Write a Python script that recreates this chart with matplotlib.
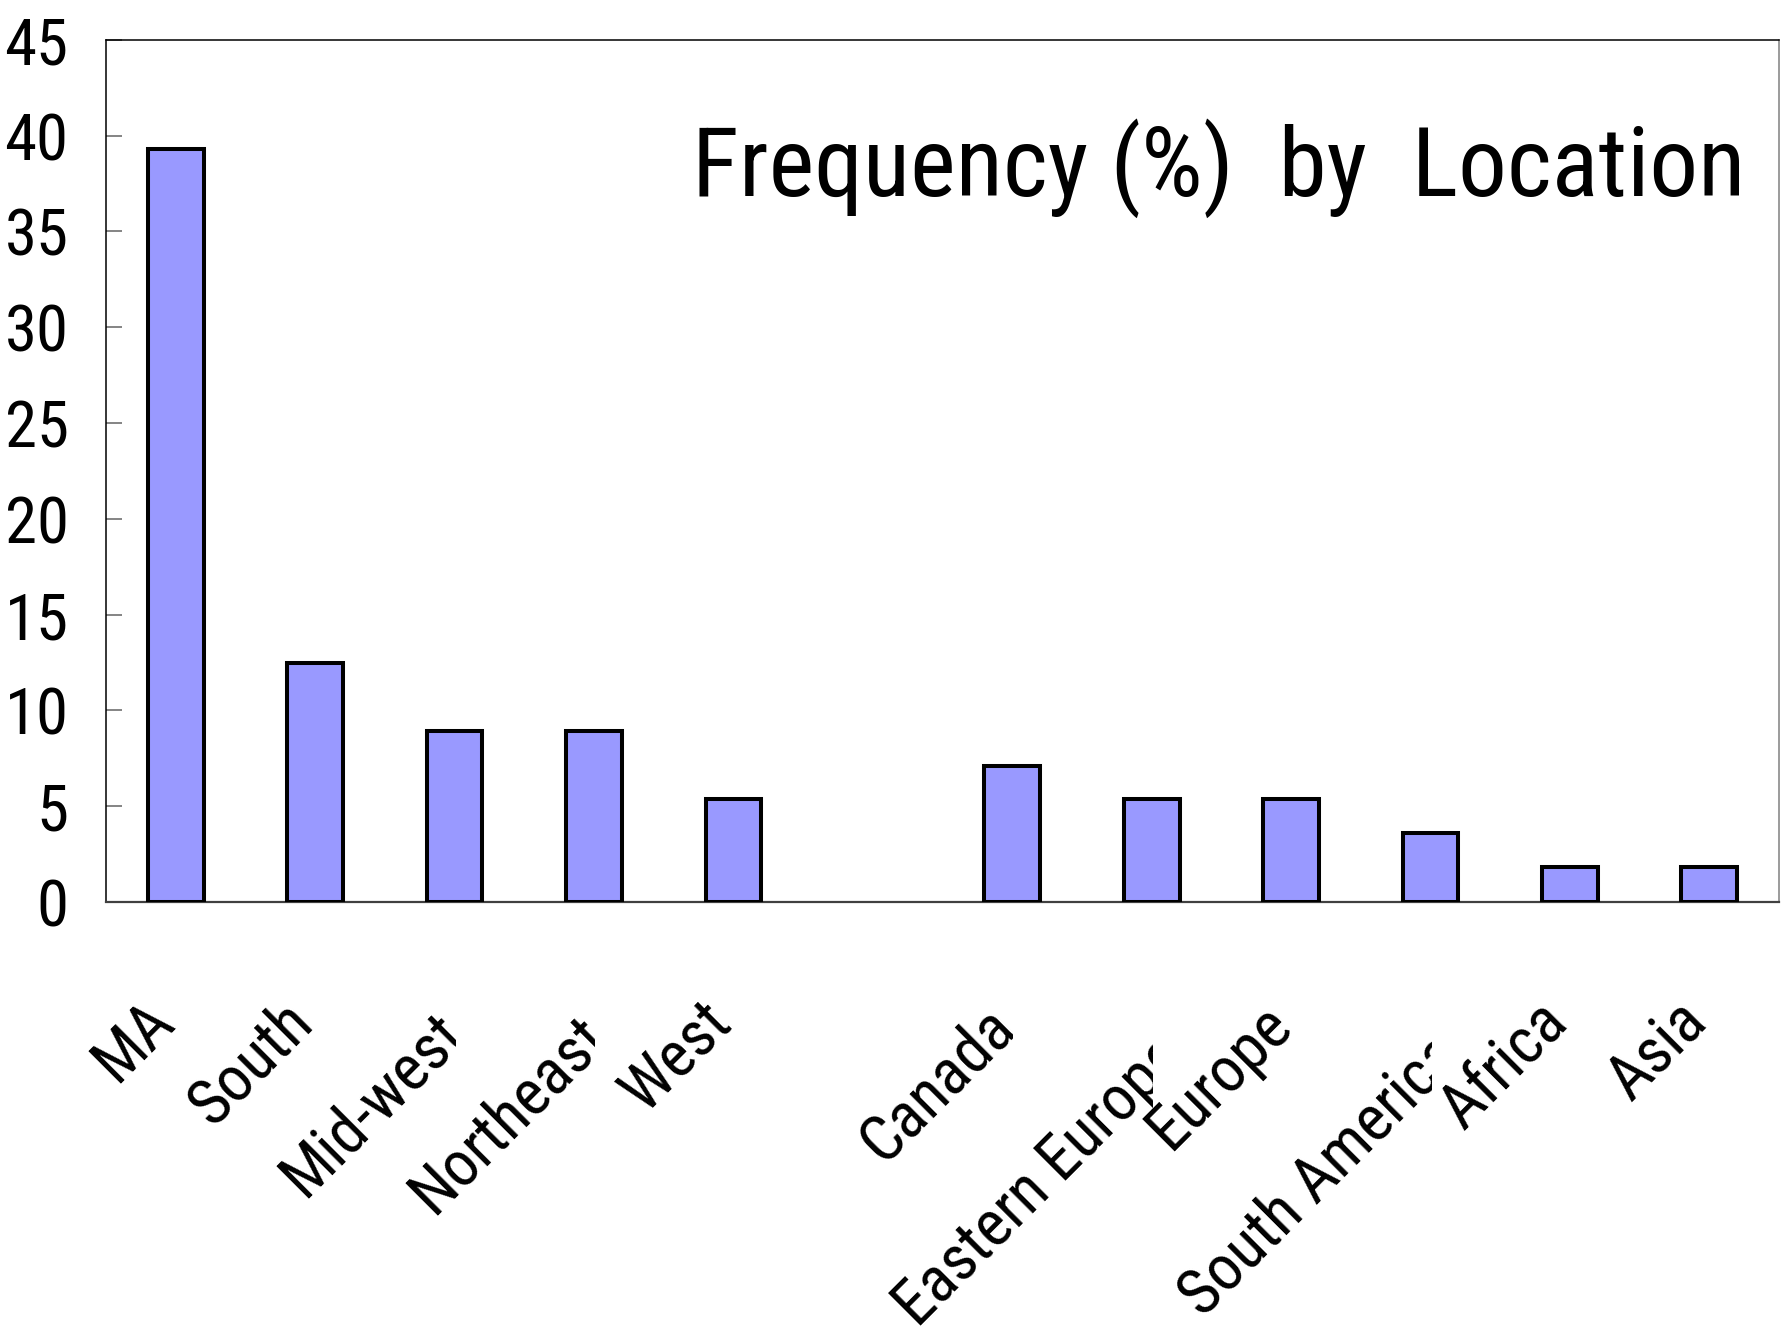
import matplotlib
matplotlib.use("Agg")
import matplotlib.pyplot as plt
from matplotlib import font_manager
from matplotlib.font_manager import FontProperties
from matplotlib.transforms import Bbox, blended_transform_factory, ScaledTranslation
import numpy as np

# Share of respondents (%) by location, n = 56
locations = ["MA", "South", "Mid-west", "Northeast", "West", "",
             "Canada", "Eastern Europe", "Europe", "South America", "Africa", "Asia"]
frequency = [39.3, 12.5, 8.9, 8.9, 5.4, 0.0, 7.1, 5.4, 5.4, 3.6, 1.8, 1.8]
y_ticks = [0, 5, 10, 15, 20, 25, 30, 35, 40, 45]
title = "Frequency (%)  by  Location"


def pick_narrow_font():
    """Prefer a narrow sans face; fall back to Liberation Sans."""
    prefs = ["liberation sans narrow", "arial narrow", "roboto condensed",
             "dejavu sans condensed", "open sans condensed", "noto sans condensed"]
    cands = []
    for f in font_manager.fontManager.ttflist:
        name = f.name.lower()
        stretch = str(f.stretch).lower()
        narrow = ("narrow" in name or "condensed" in name or
                  stretch in ("condensed", "semi-condensed", "extra-condensed"))
        if not narrow or f.style != "normal":
            continue
        try:
            w = int(f.weight)
        except (TypeError, ValueError):
            w = 400 if str(f.weight) in ("normal", "regular", "book") else 700
        if w != 400:
            continue
        rank = len(prefs)
        for i, p in enumerate(prefs):
            if name.startswith(p.split()[0]) and (p in name or "condens" in stretch or "narrow" in name):
                rank = i
                break
        cands.append((rank, f.fname))
    if cands:
        cands.sort()
        return FontProperties(fname=cands[0][1])
    return FontProperties(family="Liberation Sans")


base_font = pick_narrow_font()

DPI = 100
fig = plt.figure(figsize=(17.88, 13.40), dpi=DPI)
ax = fig.add_axes([0.0593, 0.3269, 0.9357, 0.6433])
renderer = fig.canvas.get_renderer()


def fitted_size(text, max_pt, target_w_px):
    probe = fig.text(0, 0, text, fontproperties=base_font.copy())
    probe.set_fontsize(100)
    w = probe.get_window_extent(renderer).width
    probe.remove()
    return min(max_pt, 100 * target_w_px / w)


tick_size = fitted_size("45", 49, 64)
label_size = 46
title_size = fitted_size(title, 70, 1061)

x = np.arange(len(locations))
edges = ["black" if v > 0 else "none" for v in frequency]
ax.bar(x, frequency, width=0.40, color="#9999FF", edgecolor=edges,
       linewidth=2.9, zorder=3)

ax.set_xlim(-0.5, len(locations) - 0.5)
ax.set_ylim(0, 45)
ax.set_yticks(y_ticks)
ax.set_yticklabels([str(t) for t in y_ticks])
ax.tick_params(axis="y", direction="in", length=11.5, width=1.2, color="#707070",
               pad=27)
for lab in ax.get_yticklabels():
    lab.set_fontproperties(base_font.copy())
    lab.set_fontsize(tick_size)
ax.set_xticks([])

for side in ("left", "top"):
    ax.spines[side].set_color("black")
    ax.spines[side].set_linewidth(1.1)
ax.spines["right"].set_color("#808080")
ax.spines["right"].set_linewidth(1.1)
ax.spines["bottom"].set_color("#404040")
ax.spines["bottom"].set_linewidth(1.6)

t_title = ax.text(0.9797, 0.819, title, transform=ax.transAxes, ha="right",
                  va="baseline", fontproperties=base_font.copy())
t_title.set_fontsize(title_size)

# Rotated category labels: text ends at the category centre; labels wider
# than their slot are pushed down-right and clipped at that centre line
fig.canvas.draw()
slot_px = ax.bbox.width / len(locations)
label_tr = blended_transform_factory(ax.transData, ax.transAxes)
for xi, name in zip(x, locations):
    if not name:
        continue
    t = ax.text(xi, -0.142, name, transform=label_tr, rotation=45,
                rotation_mode="anchor", ha="right", va="baseline",
                fontproperties=base_font.copy())
    t.set_fontsize(label_size)
    w = t.get_window_extent(renderer).width
    overflow = max(0.0, w - 1.1 * slot_px)
    d = 0.22 * overflow / DPI
    t.set_transform(label_tr + ScaledTranslation(d, -d, fig.dpi_scale_trans))
    xr = ax.transData.transform((xi, 0))[0] + 1
    t.set_clip_on(True)
    t.set_clip_box(Bbox([[0, 0], [xr, fig.bbox.height]]))

fig.savefig("out.png", dpi=DPI, facecolor="white")
